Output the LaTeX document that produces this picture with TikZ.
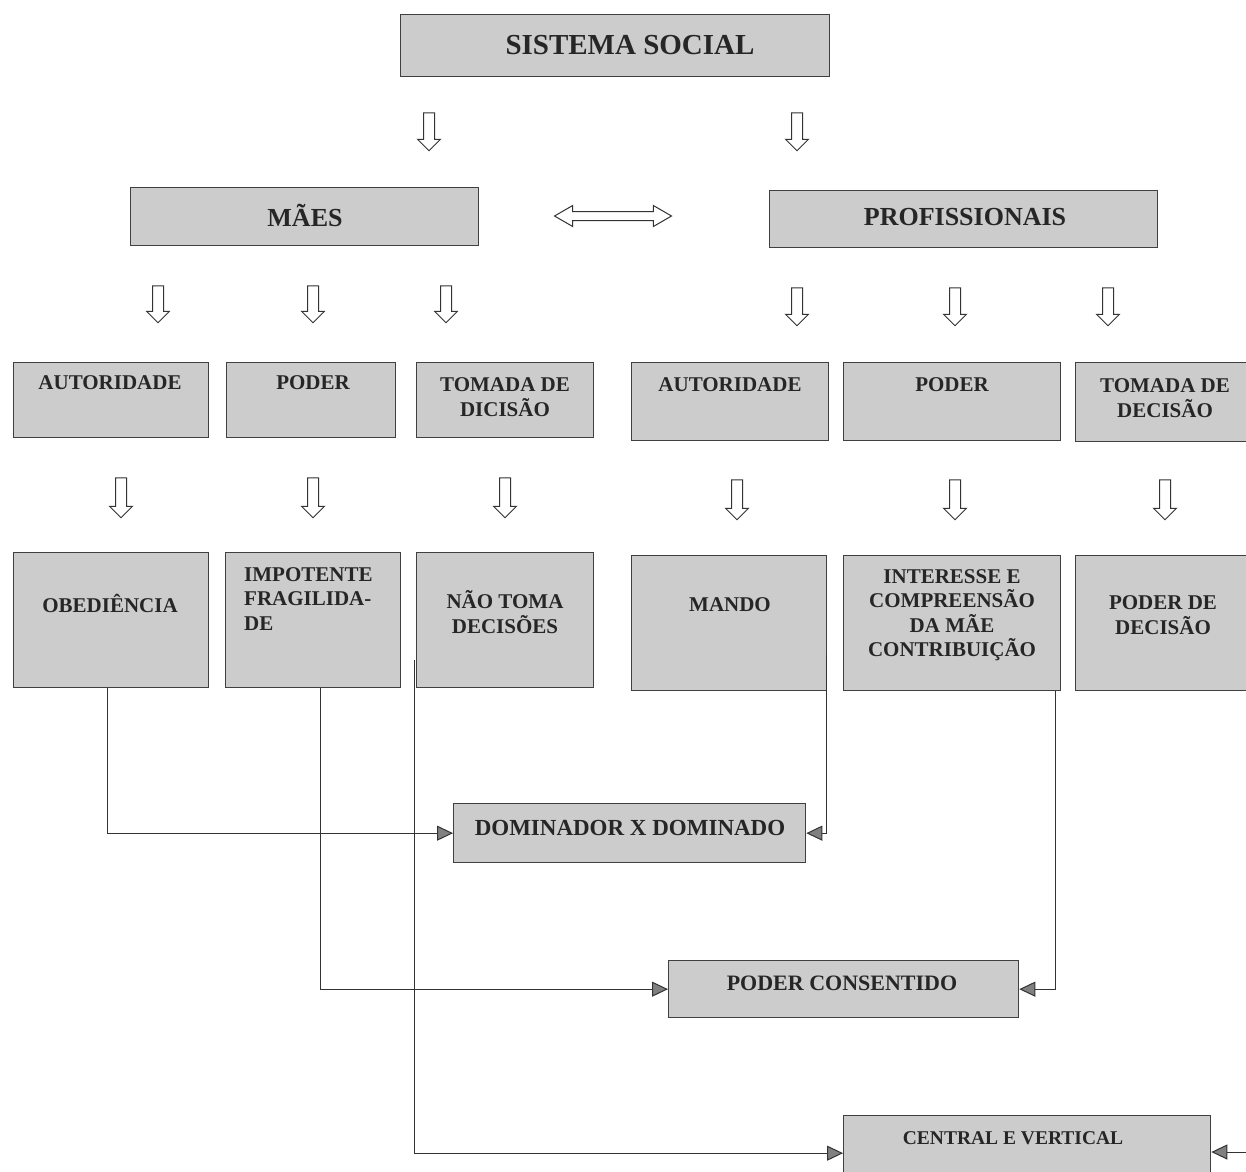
\documentclass[tikz,border=0pt]{standalone}
\usepackage{fontspec}
\setmainfont{Liberation Serif}
\usetikzlibrary{shapes.arrows,arrows.meta}
\tikzset{
 box/.style={draw=black!75, line width=1.3pt, fill=black!20, inner sep=0pt, anchor=north west},
 lbl/.style={font=\bfseries\fontsize{21}{24.5}\selectfont, text=black!85, align=center, inner sep=0pt},
 big/.style={lbl, font=\bfseries\fontsize{26}{30}\selectfont},
 huge/.style={lbl, font=\bfseries\fontsize{29}{34}\selectfont},
 downarrow/.style={single arrow, draw=black!80, fill=white, line width=1pt, shape border rotate=270,
   single arrow head extend=6pt, single arrow tip angle=90, inner sep=5pt},
 bothway/.style={double arrow, draw=black!80, fill=white, line width=1pt,
   double arrow head extend=6pt, double arrow tip angle=60, inner sep=4pt},
 link/.style={draw=black!80, line width=1pt, -{Triangle[length=16pt,width=15pt,fill=black!50]}},
}
\newcommand\mkbox[5]{\node[box, minimum width={(#4-#2)*1pt}, minimum height={(#5-#3)*1pt}] (#1) at (#2,#3) {};}
\newcommand\mkdown[4]{\node[downarrow, minimum height={(#4-#3)*1pt}] (#1) at (#2,{(#3+#4)/2}) {};}
\begin{document}
\begin{tikzpicture}[x=1pt,y=-1pt]
\useasboundingbox[fill=white] (0,0) rectangle (1246,1171);
% boxes
\mkbox{sis}{400}{14}{829}{76}
\mkbox{maes}{130}{187}{478}{245}
\mkbox{prof}{769}{190}{1157}{247}
\mkbox{auta}{13}{362}{208}{437}
\mkbox{poda}{226}{362}{395}{437}
\mkbox{toma}{416}{362}{593}{437}
\mkbox{autb}{631}{362}{828}{440}
\mkbox{podb}{843}{362}{1060}{440}
\mkbox{tomb}{1075}{362}{1262}{441}
\mkbox{ob}{13}{552}{208}{687}
\mkbox{imp}{225}{552}{400}{687}
\mkbox{nao}{416}{552}{593}{687}
\mkbox{mando}{631}{555}{826}{690}
\mkbox{int}{843}{555}{1060}{690}
\mkbox{pd}{1075}{555}{1262}{690}
\mkbox{dom}{453}{803}{805}{862}
\mkbox{pc}{668}{960}{1018}{1017}
\mkbox{cen}{843}{1115}{1210}{1190}
% texts
\node[huge] (sis-t) at (630,45) {SISTEMA SOCIAL};
\node[big] (maes-t) at (305,215) {MÃES};
\node[big] (prof-t) at (965,217) {PROFISSIONAIS};
\node[lbl] (auta-t) at (110,383) {AUTORIDADE};
\node[lbl] (poda-t) at (313,383) {PODER};
\node[lbl] (toma-t) at (505,397) {TOMADA DE\\DICISÃO};
\node[lbl] (autb-t) at (730,385) {AUTORIDADE};
\node[lbl] (podb-t) at (952,385) {PODER};
\node[lbl] (tomb-t) at (1165,398) {TOMADA DE\\DECISÃO};
\node[lbl] (ob-t) at (110,603) {OBEDIÊNCIA};
\node[lbl, align=left, anchor=west] (imp-t) at (244,599) {IMPOTENTE\\FRAGILIDA-\\DE};
\node[lbl] (nao-t) at (505,612) {NÃO TOMA\\DECISÕES};
\node[lbl] (mando-t) at (730,605) {MANDO};
\node[lbl] (int-t) at (952,615) {INTERESSE E\\COMPREENSÃO\\DA MÃE\\CONTRIBUIÇÃO};
\node[lbl] (pd-t) at (1163,615) {PODER DE\\DECISÃO};
\node[lbl, font=\bfseries\fontsize{23}{26}\selectfont] (dom-t) at (630,828) {DOMINADOR X DOMINADO};
\node[lbl, font=\bfseries\fontsize{22}{26}\selectfont] (pc-t) at (842,983) {PODER CONSENTIDO};
\node[lbl, font=\bfseries\fontsize{19.5}{24}\selectfont] (cen-t) at (1013,1138) {CENTRAL E VERTICAL};
% hollow arrows
\mkdown{d1}{429}{110}{148}
\mkdown{d2}{797}{110}{148}
\mkdown{d3}{158}{283}{320}
\mkdown{d4}{313}{283}{320}
\mkdown{d5}{446}{283}{320}
\mkdown{d6}{797}{285}{323}
\mkdown{d7}{955}{285}{323}
\mkdown{d8}{1108}{285}{323}
\mkdown{d9}{121}{475}{515}
\mkdown{d10}{313}{475}{515}
\mkdown{d11}{505}{475}{515}
\mkdown{d12}{737}{477}{517}
\mkdown{d13}{955}{477}{517}
\mkdown{d14}{1165}{477}{517}
\node[bothway, minimum height=117pt] (dd) at (613,216) {};
% connectors
\coordinate (x107) at (107,0);
\coordinate (x320) at (320,0);
\coordinate (x1055) at (1055,0);
\coordinate (m1) at (826,655);
\coordinate (n1) at (414,660);
\coordinate (r1) at (1250,1152);
\draw[link] (ob.south -| x107) |- (dom.west);
\draw[link] (m1) |- (dom.east);
\draw[link] (imp.south -| x320) |- (pc.west);
\draw[link] (int.south -| x1055) |- (pc.east);
\draw[link] (n1) |- (cen.west);
\draw[link] (r1) -- (cen.east |- r1);
\end{tikzpicture}
\end{document}
